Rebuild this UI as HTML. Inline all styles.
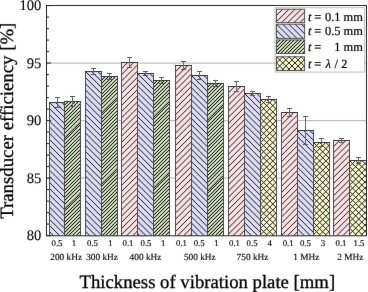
<!DOCTYPE html>
<html><head><meta charset="utf-8"><style>
html,body{margin:0;padding:0;background:#fff;}
svg{display:block;}
#wrap{width:368px;height:292px;will-change:transform;}
text{text-rendering:geometricPrecision;}
text{font-family:"Liberation Serif",serif;fill:#000;stroke:#000;stroke-width:0.3px;}
text.sm{stroke-width:0.14px;}
text.lg{stroke-width:0.2px;}
text.tk{stroke-width:0.1px;}
</style></head><body><div id="wrap">
<svg width="368" height="292" viewBox="0 0 368 292">
<defs>
<filter id="bl" color-interpolation-filters="sRGB" x="0" y="0" width="368" height="292" filterUnits="userSpaceOnUse"><feConvolveMatrix order="3" kernelMatrix="0 1 0 1 16 1 0 1 0" edgeMode="duplicate" preserveAlpha="true"/></filter>
</defs>
<g filter="url(#bl)"><rect width="368" height="292" fill="#fff"/>

<line x1="46.5" y1="63.10" x2="366.5" y2="63.10" stroke="#b2b2b2" stroke-width="1"/>
<line x1="46.5" y1="120.60" x2="366.5" y2="120.60" stroke="#b2b2b2" stroke-width="1"/>
<line x1="46.5" y1="178.10" x2="366.5" y2="178.10" stroke="#b2b2b2" stroke-width="1"/>
<clipPath id="c1"><rect x="49.5" y="102.5" width="15.000" height="133.000"/></clipPath><rect x="49.5" y="102.5" width="15.000" height="133.000" fill="#dedcf7"/><path clip-path="url(#c1)" d="M47.50 241.904L66.50 260.904M47.50 235.756L66.50 254.756M47.50 229.608L66.50 248.608M47.50 223.460L66.50 242.460M47.50 217.312L66.50 236.312M47.50 211.164L66.50 230.164M47.50 205.016L66.50 224.016M47.50 198.868L66.50 217.868M47.50 192.720L66.50 211.720M47.50 186.572L66.50 205.572M47.50 180.424L66.50 199.424M47.50 174.276L66.50 193.276M47.50 168.128L66.50 187.128M47.50 161.980L66.50 180.980M47.50 155.832L66.50 174.832M47.50 149.684L66.50 168.684M47.50 143.536L66.50 162.536M47.50 137.388L66.50 156.388M47.50 131.240L66.50 150.240M47.50 125.092L66.50 144.092M47.50 118.944L66.50 137.944M47.50 112.796L66.50 131.796M47.50 106.648L66.50 125.648M47.50 100.500L66.50 119.500M47.50 94.352L66.50 113.352M47.50 88.204L66.50 107.204M47.50 82.056L66.50 101.056M47.50 75.908L66.50 94.908" stroke="#1a1a1a" stroke-width="1.0" fill="none"/>
<path d="M49.5 235.5V102.5H64.5V235.5" fill="none" stroke="#4a4a4a" stroke-width="1"/>
<line x1="49.0" y1="102.5" x2="65.0" y2="102.5" stroke="#333" stroke-width="1"/>
<clipPath id="c2"><rect x="64.5" y="101.5" width="16.000" height="134.000"/></clipPath><rect x="64.5" y="101.5" width="16.000" height="134.000" fill="#edfcda"/><path clip-path="url(#c2)" d="M62.50 99.950L82.50 79.950M62.50 103.500L82.50 83.500M62.50 107.050L82.50 87.050M62.50 110.600L82.50 90.600M62.50 114.150L82.50 94.150M62.50 117.700L82.50 97.700M62.50 121.250L82.50 101.250M62.50 124.800L82.50 104.800M62.50 128.350L82.50 108.350M62.50 131.900L82.50 111.900M62.50 135.450L82.50 115.450M62.50 139.000L82.50 119.000M62.50 142.550L82.50 122.550M62.50 146.100L82.50 126.100M62.50 149.650L82.50 129.650M62.50 153.200L82.50 133.200M62.50 156.750L82.50 136.750M62.50 160.300L82.50 140.300M62.50 163.850L82.50 143.850M62.50 167.400L82.50 147.400M62.50 170.950L82.50 150.950M62.50 174.500L82.50 154.500M62.50 178.050L82.50 158.050M62.50 181.600L82.50 161.600M62.50 185.150L82.50 165.150M62.50 188.700L82.50 168.700M62.50 192.250L82.50 172.250M62.50 195.800L82.50 175.800M62.50 199.350L82.50 179.350M62.50 202.900L82.50 182.900M62.50 206.450L82.50 186.450M62.50 210.000L82.50 190.000M62.50 213.550L82.50 193.550M62.50 217.100L82.50 197.100M62.50 220.650L82.50 200.650M62.50 224.200L82.50 204.200M62.50 227.750L82.50 207.750M62.50 231.300L82.50 211.300M62.50 234.850L82.50 214.850M62.50 238.400L82.50 218.400M62.50 241.950L82.50 221.950M62.50 245.500L82.50 225.500M62.50 249.050L82.50 229.050M62.50 252.600L82.50 232.600M62.50 256.150L82.50 236.150M62.50 259.700L82.50 239.700" stroke="#000" stroke-opacity="0.35" stroke-width="1.5" fill="none"/><path clip-path="url(#c2)" d="M62.50 99.950L82.50 79.950M62.50 103.500L82.50 83.500M62.50 107.050L82.50 87.050M62.50 110.600L82.50 90.600M62.50 114.150L82.50 94.150M62.50 117.700L82.50 97.700M62.50 121.250L82.50 101.250M62.50 124.800L82.50 104.800M62.50 128.350L82.50 108.350M62.50 131.900L82.50 111.900M62.50 135.450L82.50 115.450M62.50 139.000L82.50 119.000M62.50 142.550L82.50 122.550M62.50 146.100L82.50 126.100M62.50 149.650L82.50 129.650M62.50 153.200L82.50 133.200M62.50 156.750L82.50 136.750M62.50 160.300L82.50 140.300M62.50 163.850L82.50 143.850M62.50 167.400L82.50 147.400M62.50 170.950L82.50 150.950M62.50 174.500L82.50 154.500M62.50 178.050L82.50 158.050M62.50 181.600L82.50 161.600M62.50 185.150L82.50 165.150M62.50 188.700L82.50 168.700M62.50 192.250L82.50 172.250M62.50 195.800L82.50 175.800M62.50 199.350L82.50 179.350M62.50 202.900L82.50 182.900M62.50 206.450L82.50 186.450M62.50 210.000L82.50 190.000M62.50 213.550L82.50 193.550M62.50 217.100L82.50 197.100M62.50 220.650L82.50 200.650M62.50 224.200L82.50 204.200M62.50 227.750L82.50 207.750M62.50 231.300L82.50 211.300M62.50 234.850L82.50 214.850M62.50 238.400L82.50 218.400M62.50 241.950L82.50 221.950M62.50 245.500L82.50 225.500M62.50 249.050L82.50 229.050M62.50 252.600L82.50 232.600M62.50 256.150L82.50 236.150M62.50 259.700L82.50 239.700" stroke="#000" stroke-width="0.85" fill="none" shape-rendering="crispEdges"/>
<path d="M64.5 235.5V101.5H80.5V235.5" fill="none" stroke="#4a4a4a" stroke-width="1"/>
<line x1="64.0" y1="101.5" x2="81.0" y2="101.5" stroke="#333" stroke-width="1"/>
<clipPath id="c3"><rect x="85.5" y="71.5" width="16.000" height="164.000"/></clipPath><rect x="85.5" y="71.5" width="16.000" height="164.000" fill="#dedcf7"/><path clip-path="url(#c3)" d="M83.50 241.644L103.50 261.644M83.50 235.496L103.50 255.496M83.50 229.348L103.50 249.348M83.50 223.200L103.50 243.200M83.50 217.052L103.50 237.052M83.50 210.904L103.50 230.904M83.50 204.756L103.50 224.756M83.50 198.608L103.50 218.608M83.50 192.460L103.50 212.460M83.50 186.312L103.50 206.312M83.50 180.164L103.50 200.164M83.50 174.016L103.50 194.016M83.50 167.868L103.50 187.868M83.50 161.720L103.50 181.720M83.50 155.572L103.50 175.572M83.50 149.424L103.50 169.424M83.50 143.276L103.50 163.276M83.50 137.128L103.50 157.128M83.50 130.980L103.50 150.980M83.50 124.832L103.50 144.832M83.50 118.684L103.50 138.684M83.50 112.536L103.50 132.536M83.50 106.388L103.50 126.388M83.50 100.240L103.50 120.240M83.50 94.092L103.50 114.092M83.50 87.944L103.50 107.944M83.50 81.796L103.50 101.796M83.50 75.648L103.50 95.648M83.50 69.500L103.50 89.500M83.50 63.352L103.50 83.352M83.50 57.204L103.50 77.204M83.50 51.056L103.50 71.056M83.50 44.908L103.50 64.908" stroke="#1a1a1a" stroke-width="1.0" fill="none"/>
<path d="M85.5 235.5V71.5H101.5V235.5" fill="none" stroke="#4a4a4a" stroke-width="1"/>
<line x1="85.0" y1="71.5" x2="102.0" y2="71.5" stroke="#333" stroke-width="1"/>
<clipPath id="c4"><rect x="101.5" y="76.5" width="16.000" height="159.000"/></clipPath><rect x="101.5" y="76.5" width="16.000" height="159.000" fill="#edfcda"/><path clip-path="url(#c4)" d="M99.50 74.950L119.50 54.950M99.50 78.500L119.50 58.500M99.50 82.050L119.50 62.050M99.50 85.600L119.50 65.600M99.50 89.150L119.50 69.150M99.50 92.700L119.50 72.700M99.50 96.250L119.50 76.250M99.50 99.800L119.50 79.800M99.50 103.350L119.50 83.350M99.50 106.900L119.50 86.900M99.50 110.450L119.50 90.450M99.50 114.000L119.50 94.000M99.50 117.550L119.50 97.550M99.50 121.100L119.50 101.100M99.50 124.650L119.50 104.650M99.50 128.200L119.50 108.200M99.50 131.750L119.50 111.750M99.50 135.300L119.50 115.300M99.50 138.850L119.50 118.850M99.50 142.400L119.50 122.400M99.50 145.950L119.50 125.950M99.50 149.500L119.50 129.500M99.50 153.050L119.50 133.050M99.50 156.600L119.50 136.600M99.50 160.150L119.50 140.150M99.50 163.700L119.50 143.700M99.50 167.250L119.50 147.250M99.50 170.800L119.50 150.800M99.50 174.350L119.50 154.350M99.50 177.900L119.50 157.900M99.50 181.450L119.50 161.450M99.50 185.000L119.50 165.000M99.50 188.550L119.50 168.550M99.50 192.100L119.50 172.100M99.50 195.650L119.50 175.650M99.50 199.200L119.50 179.200M99.50 202.750L119.50 182.750M99.50 206.300L119.50 186.300M99.50 209.850L119.50 189.850M99.50 213.400L119.50 193.400M99.50 216.950L119.50 196.950M99.50 220.500L119.50 200.500M99.50 224.050L119.50 204.050M99.50 227.600L119.50 207.600M99.50 231.150L119.50 211.150M99.50 234.700L119.50 214.700M99.50 238.250L119.50 218.250M99.50 241.800L119.50 221.800M99.50 245.350L119.50 225.350M99.50 248.900L119.50 228.900M99.50 252.450L119.50 232.450M99.50 256.000L119.50 236.000M99.50 259.550L119.50 239.550" stroke="#000" stroke-opacity="0.35" stroke-width="1.5" fill="none"/><path clip-path="url(#c4)" d="M99.50 74.950L119.50 54.950M99.50 78.500L119.50 58.500M99.50 82.050L119.50 62.050M99.50 85.600L119.50 65.600M99.50 89.150L119.50 69.150M99.50 92.700L119.50 72.700M99.50 96.250L119.50 76.250M99.50 99.800L119.50 79.800M99.50 103.350L119.50 83.350M99.50 106.900L119.50 86.900M99.50 110.450L119.50 90.450M99.50 114.000L119.50 94.000M99.50 117.550L119.50 97.550M99.50 121.100L119.50 101.100M99.50 124.650L119.50 104.650M99.50 128.200L119.50 108.200M99.50 131.750L119.50 111.750M99.50 135.300L119.50 115.300M99.50 138.850L119.50 118.850M99.50 142.400L119.50 122.400M99.50 145.950L119.50 125.950M99.50 149.500L119.50 129.500M99.50 153.050L119.50 133.050M99.50 156.600L119.50 136.600M99.50 160.150L119.50 140.150M99.50 163.700L119.50 143.700M99.50 167.250L119.50 147.250M99.50 170.800L119.50 150.800M99.50 174.350L119.50 154.350M99.50 177.900L119.50 157.900M99.50 181.450L119.50 161.450M99.50 185.000L119.50 165.000M99.50 188.550L119.50 168.550M99.50 192.100L119.50 172.100M99.50 195.650L119.50 175.650M99.50 199.200L119.50 179.200M99.50 202.750L119.50 182.750M99.50 206.300L119.50 186.300M99.50 209.850L119.50 189.850M99.50 213.400L119.50 193.400M99.50 216.950L119.50 196.950M99.50 220.500L119.50 200.500M99.50 224.050L119.50 204.050M99.50 227.600L119.50 207.600M99.50 231.150L119.50 211.150M99.50 234.700L119.50 214.700M99.50 238.250L119.50 218.250M99.50 241.800L119.50 221.800M99.50 245.350L119.50 225.350M99.50 248.900L119.50 228.900M99.50 252.450L119.50 232.450M99.50 256.000L119.50 236.000M99.50 259.550L119.50 239.550" stroke="#000" stroke-width="0.85" fill="none" shape-rendering="crispEdges"/>
<path d="M101.5 235.5V76.5H117.5V235.5" fill="none" stroke="#4a4a4a" stroke-width="1"/>
<line x1="101.0" y1="76.5" x2="118.0" y2="76.5" stroke="#333" stroke-width="1"/>
<clipPath id="c5"><rect x="121.5" y="62.5" width="16.000" height="173.000"/></clipPath><rect x="121.5" y="62.5" width="16.000" height="173.000" fill="#fbe1e4"/><path clip-path="url(#c5)" d="M119.50 58.352L139.50 38.352M119.50 64.500L139.50 44.500M119.50 70.648L139.50 50.648M119.50 76.796L139.50 56.796M119.50 82.944L139.50 62.944M119.50 89.092L139.50 69.092M119.50 95.240L139.50 75.240M119.50 101.388L139.50 81.388M119.50 107.536L139.50 87.536M119.50 113.684L139.50 93.684M119.50 119.832L139.50 99.832M119.50 125.980L139.50 105.980M119.50 132.128L139.50 112.128M119.50 138.276L139.50 118.276M119.50 144.424L139.50 124.424M119.50 150.572L139.50 130.572M119.50 156.720L139.50 136.720M119.50 162.868L139.50 142.868M119.50 169.016L139.50 149.016M119.50 175.164L139.50 155.164M119.50 181.312L139.50 161.312M119.50 187.460L139.50 167.460M119.50 193.608L139.50 173.608M119.50 199.756L139.50 179.756M119.50 205.904L139.50 185.904M119.50 212.052L139.50 192.052M119.50 218.200L139.50 198.200M119.50 224.348L139.50 204.348M119.50 230.496L139.50 210.496M119.50 236.644L139.50 216.644M119.50 242.792L139.50 222.792M119.50 248.940L139.50 228.940M119.50 255.088L139.50 235.088M119.50 261.236L139.50 241.236" stroke="#1a1a1a" stroke-width="1.0" fill="none"/>
<path d="M121.5 235.5V62.5H137.5V235.5" fill="none" stroke="#4a4a4a" stroke-width="1"/>
<line x1="121.0" y1="62.5" x2="138.0" y2="62.5" stroke="#333" stroke-width="1"/>
<clipPath id="c6"><rect x="137.5" y="73.5" width="16.000" height="162.000"/></clipPath><rect x="137.5" y="73.5" width="16.000" height="162.000" fill="#dedcf7"/><path clip-path="url(#c6)" d="M135.50 243.644L155.50 263.644M135.50 237.496L155.50 257.496M135.50 231.348L155.50 251.348M135.50 225.200L155.50 245.200M135.50 219.052L155.50 239.052M135.50 212.904L155.50 232.904M135.50 206.756L155.50 226.756M135.50 200.608L155.50 220.608M135.50 194.460L155.50 214.460M135.50 188.312L155.50 208.312M135.50 182.164L155.50 202.164M135.50 176.016L155.50 196.016M135.50 169.868L155.50 189.868M135.50 163.720L155.50 183.720M135.50 157.572L155.50 177.572M135.50 151.424L155.50 171.424M135.50 145.276L155.50 165.276M135.50 139.128L155.50 159.128M135.50 132.980L155.50 152.980M135.50 126.832L155.50 146.832M135.50 120.684L155.50 140.684M135.50 114.536L155.50 134.536M135.50 108.388L155.50 128.388M135.50 102.240L155.50 122.240M135.50 96.092L155.50 116.092M135.50 89.944L155.50 109.944M135.50 83.796L155.50 103.796M135.50 77.648L155.50 97.648M135.50 71.500L155.50 91.500M135.50 65.352L155.50 85.352M135.50 59.204L155.50 79.204M135.50 53.056L155.50 73.056M135.50 46.908L155.50 66.908" stroke="#1a1a1a" stroke-width="1.0" fill="none"/>
<path d="M137.5 235.5V73.5H153.5V235.5" fill="none" stroke="#4a4a4a" stroke-width="1"/>
<line x1="137.0" y1="73.5" x2="154.0" y2="73.5" stroke="#333" stroke-width="1"/>
<clipPath id="c7"><rect x="153.5" y="80.5" width="16.000" height="155.000"/></clipPath><rect x="153.5" y="80.5" width="16.000" height="155.000" fill="#edfcda"/><path clip-path="url(#c7)" d="M151.50 78.950L171.50 58.950M151.50 82.500L171.50 62.500M151.50 86.050L171.50 66.050M151.50 89.600L171.50 69.600M151.50 93.150L171.50 73.150M151.50 96.700L171.50 76.700M151.50 100.250L171.50 80.250M151.50 103.800L171.50 83.800M151.50 107.350L171.50 87.350M151.50 110.900L171.50 90.900M151.50 114.450L171.50 94.450M151.50 118.000L171.50 98.000M151.50 121.550L171.50 101.550M151.50 125.100L171.50 105.100M151.50 128.650L171.50 108.650M151.50 132.200L171.50 112.200M151.50 135.750L171.50 115.750M151.50 139.300L171.50 119.300M151.50 142.850L171.50 122.850M151.50 146.400L171.50 126.400M151.50 149.950L171.50 129.950M151.50 153.500L171.50 133.500M151.50 157.050L171.50 137.050M151.50 160.600L171.50 140.600M151.50 164.150L171.50 144.150M151.50 167.700L171.50 147.700M151.50 171.250L171.50 151.250M151.50 174.800L171.50 154.800M151.50 178.350L171.50 158.350M151.50 181.900L171.50 161.900M151.50 185.450L171.50 165.450M151.50 189.000L171.50 169.000M151.50 192.550L171.50 172.550M151.50 196.100L171.50 176.100M151.50 199.650L171.50 179.650M151.50 203.200L171.50 183.200M151.50 206.750L171.50 186.750M151.50 210.300L171.50 190.300M151.50 213.850L171.50 193.850M151.50 217.400L171.50 197.400M151.50 220.950L171.50 200.950M151.50 224.500L171.50 204.500M151.50 228.050L171.50 208.050M151.50 231.600L171.50 211.600M151.50 235.150L171.50 215.150M151.50 238.700L171.50 218.700M151.50 242.250L171.50 222.250M151.50 245.800L171.50 225.800M151.50 249.350L171.50 229.350M151.50 252.900L171.50 232.900M151.50 256.450L171.50 236.450M151.50 260.000L171.50 240.000" stroke="#000" stroke-opacity="0.35" stroke-width="1.5" fill="none"/><path clip-path="url(#c7)" d="M151.50 78.950L171.50 58.950M151.50 82.500L171.50 62.500M151.50 86.050L171.50 66.050M151.50 89.600L171.50 69.600M151.50 93.150L171.50 73.150M151.50 96.700L171.50 76.700M151.50 100.250L171.50 80.250M151.50 103.800L171.50 83.800M151.50 107.350L171.50 87.350M151.50 110.900L171.50 90.900M151.50 114.450L171.50 94.450M151.50 118.000L171.50 98.000M151.50 121.550L171.50 101.550M151.50 125.100L171.50 105.100M151.50 128.650L171.50 108.650M151.50 132.200L171.50 112.200M151.50 135.750L171.50 115.750M151.50 139.300L171.50 119.300M151.50 142.850L171.50 122.850M151.50 146.400L171.50 126.400M151.50 149.950L171.50 129.950M151.50 153.500L171.50 133.500M151.50 157.050L171.50 137.050M151.50 160.600L171.50 140.600M151.50 164.150L171.50 144.150M151.50 167.700L171.50 147.700M151.50 171.250L171.50 151.250M151.50 174.800L171.50 154.800M151.50 178.350L171.50 158.350M151.50 181.900L171.50 161.900M151.50 185.450L171.50 165.450M151.50 189.000L171.50 169.000M151.50 192.550L171.50 172.550M151.50 196.100L171.50 176.100M151.50 199.650L171.50 179.650M151.50 203.200L171.50 183.200M151.50 206.750L171.50 186.750M151.50 210.300L171.50 190.300M151.50 213.850L171.50 193.850M151.50 217.400L171.50 197.400M151.50 220.950L171.50 200.950M151.50 224.500L171.50 204.500M151.50 228.050L171.50 208.050M151.50 231.600L171.50 211.600M151.50 235.150L171.50 215.150M151.50 238.700L171.50 218.700M151.50 242.250L171.50 222.250M151.50 245.800L171.50 225.800M151.50 249.350L171.50 229.350M151.50 252.900L171.50 232.900M151.50 256.450L171.50 236.450M151.50 260.000L171.50 240.000" stroke="#000" stroke-width="0.85" fill="none" shape-rendering="crispEdges"/>
<path d="M153.5 235.5V80.5H169.5V235.5" fill="none" stroke="#4a4a4a" stroke-width="1"/>
<line x1="153.0" y1="80.5" x2="170.0" y2="80.5" stroke="#333" stroke-width="1"/>
<clipPath id="c8"><rect x="175.5" y="65.5" width="16.000" height="170.000"/></clipPath><rect x="175.5" y="65.5" width="16.000" height="170.000" fill="#fbe1e4"/><path clip-path="url(#c8)" d="M173.50 61.352L193.50 41.352M173.50 67.500L193.50 47.500M173.50 73.648L193.50 53.648M173.50 79.796L193.50 59.796M173.50 85.944L193.50 65.944M173.50 92.092L193.50 72.092M173.50 98.240L193.50 78.240M173.50 104.388L193.50 84.388M173.50 110.536L193.50 90.536M173.50 116.684L193.50 96.684M173.50 122.832L193.50 102.832M173.50 128.980L193.50 108.980M173.50 135.128L193.50 115.128M173.50 141.276L193.50 121.276M173.50 147.424L193.50 127.424M173.50 153.572L193.50 133.572M173.50 159.720L193.50 139.720M173.50 165.868L193.50 145.868M173.50 172.016L193.50 152.016M173.50 178.164L193.50 158.164M173.50 184.312L193.50 164.312M173.50 190.460L193.50 170.460M173.50 196.608L193.50 176.608M173.50 202.756L193.50 182.756M173.50 208.904L193.50 188.904M173.50 215.052L193.50 195.052M173.50 221.200L193.50 201.200M173.50 227.348L193.50 207.348M173.50 233.496L193.50 213.496M173.50 239.644L193.50 219.644M173.50 245.792L193.50 225.792M173.50 251.940L193.50 231.940M173.50 258.088L193.50 238.088M173.50 264.236L193.50 244.236" stroke="#1a1a1a" stroke-width="1.0" fill="none"/>
<path d="M175.5 235.5V65.5H191.5V235.5" fill="none" stroke="#4a4a4a" stroke-width="1"/>
<line x1="175.0" y1="65.5" x2="192.0" y2="65.5" stroke="#333" stroke-width="1"/>
<clipPath id="c9"><rect x="191.5" y="75.5" width="16.000" height="160.000"/></clipPath><rect x="191.5" y="75.5" width="16.000" height="160.000" fill="#dedcf7"/><path clip-path="url(#c9)" d="M189.50 245.644L209.50 265.644M189.50 239.496L209.50 259.496M189.50 233.348L209.50 253.348M189.50 227.200L209.50 247.200M189.50 221.052L209.50 241.052M189.50 214.904L209.50 234.904M189.50 208.756L209.50 228.756M189.50 202.608L209.50 222.608M189.50 196.460L209.50 216.460M189.50 190.312L209.50 210.312M189.50 184.164L209.50 204.164M189.50 178.016L209.50 198.016M189.50 171.868L209.50 191.868M189.50 165.720L209.50 185.720M189.50 159.572L209.50 179.572M189.50 153.424L209.50 173.424M189.50 147.276L209.50 167.276M189.50 141.128L209.50 161.128M189.50 134.980L209.50 154.980M189.50 128.832L209.50 148.832M189.50 122.684L209.50 142.684M189.50 116.536L209.50 136.536M189.50 110.388L209.50 130.388M189.50 104.240L209.50 124.240M189.50 98.092L209.50 118.092M189.50 91.944L209.50 111.944M189.50 85.796L209.50 105.796M189.50 79.648L209.50 99.648M189.50 73.500L209.50 93.500M189.50 67.352L209.50 87.352M189.50 61.204L209.50 81.204M189.50 55.056L209.50 75.056M189.50 48.908L209.50 68.908" stroke="#1a1a1a" stroke-width="1.0" fill="none"/>
<path d="M191.5 235.5V75.5H207.5V235.5" fill="none" stroke="#4a4a4a" stroke-width="1"/>
<line x1="191.0" y1="75.5" x2="208.0" y2="75.5" stroke="#333" stroke-width="1"/>
<clipPath id="c10"><rect x="207.5" y="83.5" width="16.000" height="152.000"/></clipPath><rect x="207.5" y="83.5" width="16.000" height="152.000" fill="#edfcda"/><path clip-path="url(#c10)" d="M205.50 81.950L225.50 61.950M205.50 85.500L225.50 65.500M205.50 89.050L225.50 69.050M205.50 92.600L225.50 72.600M205.50 96.150L225.50 76.150M205.50 99.700L225.50 79.700M205.50 103.250L225.50 83.250M205.50 106.800L225.50 86.800M205.50 110.350L225.50 90.350M205.50 113.900L225.50 93.900M205.50 117.450L225.50 97.450M205.50 121.000L225.50 101.000M205.50 124.550L225.50 104.550M205.50 128.100L225.50 108.100M205.50 131.650L225.50 111.650M205.50 135.200L225.50 115.200M205.50 138.750L225.50 118.750M205.50 142.300L225.50 122.300M205.50 145.850L225.50 125.850M205.50 149.400L225.50 129.400M205.50 152.950L225.50 132.950M205.50 156.500L225.50 136.500M205.50 160.050L225.50 140.050M205.50 163.600L225.50 143.600M205.50 167.150L225.50 147.150M205.50 170.700L225.50 150.700M205.50 174.250L225.50 154.250M205.50 177.800L225.50 157.800M205.50 181.350L225.50 161.350M205.50 184.900L225.50 164.900M205.50 188.450L225.50 168.450M205.50 192.000L225.50 172.000M205.50 195.550L225.50 175.550M205.50 199.100L225.50 179.100M205.50 202.650L225.50 182.650M205.50 206.200L225.50 186.200M205.50 209.750L225.50 189.750M205.50 213.300L225.50 193.300M205.50 216.850L225.50 196.850M205.50 220.400L225.50 200.400M205.50 223.950L225.50 203.950M205.50 227.500L225.50 207.500M205.50 231.050L225.50 211.050M205.50 234.600L225.50 214.600M205.50 238.150L225.50 218.150M205.50 241.700L225.50 221.700M205.50 245.250L225.50 225.250M205.50 248.800L225.50 228.800M205.50 252.350L225.50 232.350M205.50 255.900L225.50 235.900M205.50 259.450L225.50 239.450" stroke="#000" stroke-opacity="0.35" stroke-width="1.5" fill="none"/><path clip-path="url(#c10)" d="M205.50 81.950L225.50 61.950M205.50 85.500L225.50 65.500M205.50 89.050L225.50 69.050M205.50 92.600L225.50 72.600M205.50 96.150L225.50 76.150M205.50 99.700L225.50 79.700M205.50 103.250L225.50 83.250M205.50 106.800L225.50 86.800M205.50 110.350L225.50 90.350M205.50 113.900L225.50 93.900M205.50 117.450L225.50 97.450M205.50 121.000L225.50 101.000M205.50 124.550L225.50 104.550M205.50 128.100L225.50 108.100M205.50 131.650L225.50 111.650M205.50 135.200L225.50 115.200M205.50 138.750L225.50 118.750M205.50 142.300L225.50 122.300M205.50 145.850L225.50 125.850M205.50 149.400L225.50 129.400M205.50 152.950L225.50 132.950M205.50 156.500L225.50 136.500M205.50 160.050L225.50 140.050M205.50 163.600L225.50 143.600M205.50 167.150L225.50 147.150M205.50 170.700L225.50 150.700M205.50 174.250L225.50 154.250M205.50 177.800L225.50 157.800M205.50 181.350L225.50 161.350M205.50 184.900L225.50 164.900M205.50 188.450L225.50 168.450M205.50 192.000L225.50 172.000M205.50 195.550L225.50 175.550M205.50 199.100L225.50 179.100M205.50 202.650L225.50 182.650M205.50 206.200L225.50 186.200M205.50 209.750L225.50 189.750M205.50 213.300L225.50 193.300M205.50 216.850L225.50 196.850M205.50 220.400L225.50 200.400M205.50 223.950L225.50 203.950M205.50 227.500L225.50 207.500M205.50 231.050L225.50 211.050M205.50 234.600L225.50 214.600M205.50 238.150L225.50 218.150M205.50 241.700L225.50 221.700M205.50 245.250L225.50 225.250M205.50 248.800L225.50 228.800M205.50 252.350L225.50 232.350M205.50 255.900L225.50 235.900M205.50 259.450L225.50 239.450" stroke="#000" stroke-width="0.85" fill="none" shape-rendering="crispEdges"/>
<path d="M207.5 235.5V83.5H223.5V235.5" fill="none" stroke="#4a4a4a" stroke-width="1"/>
<line x1="207.0" y1="83.5" x2="224.0" y2="83.5" stroke="#333" stroke-width="1"/>
<clipPath id="c11"><rect x="228.5" y="86.5" width="16.000" height="149.000"/></clipPath><rect x="228.5" y="86.5" width="16.000" height="149.000" fill="#fbe1e4"/><path clip-path="url(#c11)" d="M226.50 82.352L246.50 62.352M226.50 88.500L246.50 68.500M226.50 94.648L246.50 74.648M226.50 100.796L246.50 80.796M226.50 106.944L246.50 86.944M226.50 113.092L246.50 93.092M226.50 119.240L246.50 99.240M226.50 125.388L246.50 105.388M226.50 131.536L246.50 111.536M226.50 137.684L246.50 117.684M226.50 143.832L246.50 123.832M226.50 149.980L246.50 129.980M226.50 156.128L246.50 136.128M226.50 162.276L246.50 142.276M226.50 168.424L246.50 148.424M226.50 174.572L246.50 154.572M226.50 180.720L246.50 160.720M226.50 186.868L246.50 166.868M226.50 193.016L246.50 173.016M226.50 199.164L246.50 179.164M226.50 205.312L246.50 185.312M226.50 211.460L246.50 191.460M226.50 217.608L246.50 197.608M226.50 223.756L246.50 203.756M226.50 229.904L246.50 209.904M226.50 236.052L246.50 216.052M226.50 242.200L246.50 222.200M226.50 248.348L246.50 228.348M226.50 254.496L246.50 234.496M226.50 260.644L246.50 240.644" stroke="#1a1a1a" stroke-width="1.0" fill="none"/>
<path d="M228.5 235.5V86.5H244.5V235.5" fill="none" stroke="#4a4a4a" stroke-width="1"/>
<line x1="228.0" y1="86.5" x2="245.0" y2="86.5" stroke="#333" stroke-width="1"/>
<clipPath id="c12"><rect x="244.5" y="93.5" width="16.000" height="142.000"/></clipPath><rect x="244.5" y="93.5" width="16.000" height="142.000" fill="#dedcf7"/><path clip-path="url(#c12)" d="M242.50 245.200L262.50 265.200M242.50 239.052L262.50 259.052M242.50 232.904L262.50 252.904M242.50 226.756L262.50 246.756M242.50 220.608L262.50 240.608M242.50 214.460L262.50 234.460M242.50 208.312L262.50 228.312M242.50 202.164L262.50 222.164M242.50 196.016L262.50 216.016M242.50 189.868L262.50 209.868M242.50 183.720L262.50 203.720M242.50 177.572L262.50 197.572M242.50 171.424L262.50 191.424M242.50 165.276L262.50 185.276M242.50 159.128L262.50 179.128M242.50 152.980L262.50 172.980M242.50 146.832L262.50 166.832M242.50 140.684L262.50 160.684M242.50 134.536L262.50 154.536M242.50 128.388L262.50 148.388M242.50 122.240L262.50 142.240M242.50 116.092L262.50 136.092M242.50 109.944L262.50 129.944M242.50 103.796L262.50 123.796M242.50 97.648L262.50 117.648M242.50 91.500L262.50 111.500M242.50 85.352L262.50 105.352M242.50 79.204L262.50 99.204M242.50 73.056L262.50 93.056M242.50 66.908L262.50 86.908" stroke="#1a1a1a" stroke-width="1.0" fill="none"/>
<path d="M244.5 235.5V93.5H260.5V235.5" fill="none" stroke="#4a4a4a" stroke-width="1"/>
<line x1="244.0" y1="93.5" x2="261.0" y2="93.5" stroke="#333" stroke-width="1"/>
<clipPath id="c13"><rect x="260.5" y="99.5" width="16.000" height="136.000"/></clipPath><rect x="260.5" y="99.5" width="16.000" height="136.000" fill="#fdfbd2"/><path clip-path="url(#c13)" d="M258.50 95.352L278.50 75.352M258.50 101.500L278.50 81.500M258.50 107.648L278.50 87.648M258.50 113.796L278.50 93.796M258.50 119.944L278.50 99.944M258.50 126.092L278.50 106.092M258.50 132.240L278.50 112.240M258.50 138.388L278.50 118.388M258.50 144.536L278.50 124.536M258.50 150.684L278.50 130.684M258.50 156.832L278.50 136.832M258.50 162.980L278.50 142.980M258.50 169.128L278.50 149.128M258.50 175.276L278.50 155.276M258.50 181.424L278.50 161.424M258.50 187.572L278.50 167.572M258.50 193.720L278.50 173.720M258.50 199.868L278.50 179.868M258.50 206.016L278.50 186.016M258.50 212.164L278.50 192.164M258.50 218.312L278.50 198.312M258.50 224.460L278.50 204.460M258.50 230.608L278.50 210.608M258.50 236.756L278.50 216.756M258.50 242.904L278.50 222.904M258.50 249.052L278.50 229.052M258.50 255.200L278.50 235.200M258.50 261.348L278.50 241.348M258.50 245.052L278.50 265.052M258.50 238.904L278.50 258.904M258.50 232.756L278.50 252.756M258.50 226.608L278.50 246.608M258.50 220.460L278.50 240.460M258.50 214.312L278.50 234.312M258.50 208.164L278.50 228.164M258.50 202.016L278.50 222.016M258.50 195.868L278.50 215.868M258.50 189.720L278.50 209.720M258.50 183.572L278.50 203.572M258.50 177.424L278.50 197.424M258.50 171.276L278.50 191.276M258.50 165.128L278.50 185.128M258.50 158.980L278.50 178.980M258.50 152.832L278.50 172.832M258.50 146.684L278.50 166.684M258.50 140.536L278.50 160.536M258.50 134.388L278.50 154.388M258.50 128.240L278.50 148.240M258.50 122.092L278.50 142.092M258.50 115.944L278.50 135.944M258.50 109.796L278.50 129.796M258.50 103.648L278.50 123.648M258.50 97.500L278.50 117.500M258.50 91.352L278.50 111.352M258.50 85.204L278.50 105.204M258.50 79.056L278.50 99.056M258.50 72.908L278.50 92.908" stroke="#1a1a1a" stroke-width="1.0" fill="none"/>
<path d="M260.5 235.5V99.5H276.5V235.5" fill="none" stroke="#4a4a4a" stroke-width="1"/>
<line x1="260.0" y1="99.5" x2="277.0" y2="99.5" stroke="#333" stroke-width="1"/>
<clipPath id="c14"><rect x="281.5" y="112.5" width="16.000" height="123.000"/></clipPath><rect x="281.5" y="112.5" width="16.000" height="123.000" fill="#fbe1e4"/><path clip-path="url(#c14)" d="M279.50 108.352L299.50 88.352M279.50 114.500L299.50 94.500M279.50 120.648L299.50 100.648M279.50 126.796L299.50 106.796M279.50 132.944L299.50 112.944M279.50 139.092L299.50 119.092M279.50 145.240L299.50 125.240M279.50 151.388L299.50 131.388M279.50 157.536L299.50 137.536M279.50 163.684L299.50 143.684M279.50 169.832L299.50 149.832M279.50 175.980L299.50 155.980M279.50 182.128L299.50 162.128M279.50 188.276L299.50 168.276M279.50 194.424L299.50 174.424M279.50 200.572L299.50 180.572M279.50 206.720L299.50 186.720M279.50 212.868L299.50 192.868M279.50 219.016L299.50 199.016M279.50 225.164L299.50 205.164M279.50 231.312L299.50 211.312M279.50 237.460L299.50 217.460M279.50 243.608L299.50 223.608M279.50 249.756L299.50 229.756M279.50 255.904L299.50 235.904M279.50 262.052L299.50 242.052" stroke="#1a1a1a" stroke-width="1.0" fill="none"/>
<path d="M281.5 235.5V112.5H297.5V235.5" fill="none" stroke="#4a4a4a" stroke-width="1"/>
<line x1="281.0" y1="112.5" x2="298.0" y2="112.5" stroke="#333" stroke-width="1"/>
<clipPath id="c15"><rect x="297.5" y="130.5" width="16.000" height="105.000"/></clipPath><rect x="297.5" y="130.5" width="16.000" height="105.000" fill="#dedcf7"/><path clip-path="url(#c15)" d="M295.50 245.312L315.50 265.312M295.50 239.164L315.50 259.164M295.50 233.016L315.50 253.016M295.50 226.868L315.50 246.868M295.50 220.720L315.50 240.720M295.50 214.572L315.50 234.572M295.50 208.424L315.50 228.424M295.50 202.276L315.50 222.276M295.50 196.128L315.50 216.128M295.50 189.980L315.50 209.980M295.50 183.832L315.50 203.832M295.50 177.684L315.50 197.684M295.50 171.536L315.50 191.536M295.50 165.388L315.50 185.388M295.50 159.240L315.50 179.240M295.50 153.092L315.50 173.092M295.50 146.944L315.50 166.944M295.50 140.796L315.50 160.796M295.50 134.648L315.50 154.648M295.50 128.500L315.50 148.500M295.50 122.352L315.50 142.352M295.50 116.204L315.50 136.204M295.50 110.056L315.50 130.056M295.50 103.908L315.50 123.908" stroke="#1a1a1a" stroke-width="1.0" fill="none"/>
<path d="M297.5 235.5V130.5H313.5V235.5" fill="none" stroke="#4a4a4a" stroke-width="1"/>
<line x1="297.0" y1="130.5" x2="314.0" y2="130.5" stroke="#333" stroke-width="1"/>
<clipPath id="c16"><rect x="313.5" y="142.5" width="16.000" height="93.000"/></clipPath><rect x="313.5" y="142.5" width="16.000" height="93.000" fill="#fdfbd2"/><path clip-path="url(#c16)" d="M311.50 138.352L331.50 118.352M311.50 144.500L331.50 124.500M311.50 150.648L331.50 130.648M311.50 156.796L331.50 136.796M311.50 162.944L331.50 142.944M311.50 169.092L331.50 149.092M311.50 175.240L331.50 155.240M311.50 181.388L331.50 161.388M311.50 187.536L331.50 167.536M311.50 193.684L331.50 173.684M311.50 199.832L331.50 179.832M311.50 205.980L331.50 185.980M311.50 212.128L331.50 192.128M311.50 218.276L331.50 198.276M311.50 224.424L331.50 204.424M311.50 230.572L331.50 210.572M311.50 236.720L331.50 216.720M311.50 242.868L331.50 222.868M311.50 249.016L331.50 229.016M311.50 255.164L331.50 235.164M311.50 261.312L331.50 241.312M311.50 245.016L331.50 265.016M311.50 238.868L331.50 258.868M311.50 232.720L331.50 252.720M311.50 226.572L331.50 246.572M311.50 220.424L331.50 240.424M311.50 214.276L331.50 234.276M311.50 208.128L331.50 228.128M311.50 201.980L331.50 221.980M311.50 195.832L331.50 215.832M311.50 189.684L331.50 209.684M311.50 183.536L331.50 203.536M311.50 177.388L331.50 197.388M311.50 171.240L331.50 191.240M311.50 165.092L331.50 185.092M311.50 158.944L331.50 178.944M311.50 152.796L331.50 172.796M311.50 146.648L331.50 166.648M311.50 140.500L331.50 160.500M311.50 134.352L331.50 154.352M311.50 128.204L331.50 148.204M311.50 122.056L331.50 142.056M311.50 115.908L331.50 135.908" stroke="#1a1a1a" stroke-width="1.0" fill="none"/>
<path d="M313.5 235.5V142.5H329.5V235.5" fill="none" stroke="#4a4a4a" stroke-width="1"/>
<line x1="313.0" y1="142.5" x2="330.0" y2="142.5" stroke="#333" stroke-width="1"/>
<clipPath id="c17"><rect x="333.5" y="140.5" width="16.000" height="95.000"/></clipPath><rect x="333.5" y="140.5" width="16.000" height="95.000" fill="#fbe1e4"/><path clip-path="url(#c17)" d="M331.50 136.352L351.50 116.352M331.50 142.500L351.50 122.500M331.50 148.648L351.50 128.648M331.50 154.796L351.50 134.796M331.50 160.944L351.50 140.944M331.50 167.092L351.50 147.092M331.50 173.240L351.50 153.240M331.50 179.388L351.50 159.388M331.50 185.536L351.50 165.536M331.50 191.684L351.50 171.684M331.50 197.832L351.50 177.832M331.50 203.980L351.50 183.980M331.50 210.128L351.50 190.128M331.50 216.276L351.50 196.276M331.50 222.424L351.50 202.424M331.50 228.572L351.50 208.572M331.50 234.720L351.50 214.720M331.50 240.868L351.50 220.868M331.50 247.016L351.50 227.016M331.50 253.164L351.50 233.164M331.50 259.312L351.50 239.312M331.50 265.460L351.50 245.460" stroke="#1a1a1a" stroke-width="1.0" fill="none"/>
<path d="M333.5 235.5V140.5H349.5V235.5" fill="none" stroke="#4a4a4a" stroke-width="1"/>
<line x1="333.0" y1="140.5" x2="350.0" y2="140.5" stroke="#333" stroke-width="1"/>
<clipPath id="c18"><rect x="349.5" y="160.5" width="17.000" height="75.000"/></clipPath><rect x="349.5" y="160.5" width="17.000" height="75.000" fill="#fdfbd2"/><path clip-path="url(#c18)" d="M347.50 156.352L368.50 135.352M347.50 162.500L368.50 141.500M347.50 168.648L368.50 147.648M347.50 174.796L368.50 153.796M347.50 180.944L368.50 159.944M347.50 187.092L368.50 166.092M347.50 193.240L368.50 172.240M347.50 199.388L368.50 178.388M347.50 205.536L368.50 184.536M347.50 211.684L368.50 190.684M347.50 217.832L368.50 196.832M347.50 223.980L368.50 202.980M347.50 230.128L368.50 209.128M347.50 236.276L368.50 215.276M347.50 242.424L368.50 221.424M347.50 248.572L368.50 227.572M347.50 254.720L368.50 233.720M347.50 260.868L368.50 239.868M347.50 244.572L368.50 265.572M347.50 238.424L368.50 259.424M347.50 232.276L368.50 253.276M347.50 226.128L368.50 247.128M347.50 219.980L368.50 240.980M347.50 213.832L368.50 234.832M347.50 207.684L368.50 228.684M347.50 201.536L368.50 222.536M347.50 195.388L368.50 216.388M347.50 189.240L368.50 210.240M347.50 183.092L368.50 204.092M347.50 176.944L368.50 197.944M347.50 170.796L368.50 191.796M347.50 164.648L368.50 185.648M347.50 158.500L368.50 179.500M347.50 152.352L368.50 173.352M347.50 146.204L368.50 167.204M347.50 140.056L368.50 161.056M347.50 133.908L368.50 154.908" stroke="#1a1a1a" stroke-width="1.0" fill="none"/>
<path d="M349.5 235.5V160.5H366.5V235.5" fill="none" stroke="#4a4a4a" stroke-width="1"/>
<line x1="349.0" y1="160.5" x2="367.0" y2="160.5" stroke="#333" stroke-width="1"/>
<line x1="57.50" y1="97.50" x2="57.50" y2="107.50" stroke="#686868" stroke-width="1"/>
<line x1="55.00" y1="97.50" x2="60.00" y2="97.50" stroke="#555" stroke-width="1"/>
<line x1="55.00" y1="107.50" x2="60.00" y2="107.50" stroke="#555" stroke-width="1"/>
<line x1="72.50" y1="96.50" x2="72.50" y2="106.50" stroke="#686868" stroke-width="1"/>
<line x1="70.00" y1="96.50" x2="75.00" y2="96.50" stroke="#555" stroke-width="1"/>
<line x1="70.00" y1="106.50" x2="75.00" y2="106.50" stroke="#555" stroke-width="1"/>
<line x1="93.50" y1="68.50" x2="93.50" y2="74.50" stroke="#686868" stroke-width="1"/>
<line x1="91.00" y1="68.50" x2="96.00" y2="68.50" stroke="#555" stroke-width="1"/>
<line x1="91.00" y1="74.50" x2="96.00" y2="74.50" stroke="#555" stroke-width="1"/>
<line x1="109.50" y1="73.50" x2="109.50" y2="79.50" stroke="#686868" stroke-width="1"/>
<line x1="107.00" y1="73.50" x2="112.00" y2="73.50" stroke="#555" stroke-width="1"/>
<line x1="107.00" y1="79.50" x2="112.00" y2="79.50" stroke="#555" stroke-width="1"/>
<line x1="129.50" y1="57.50" x2="129.50" y2="67.50" stroke="#686868" stroke-width="1"/>
<line x1="127.00" y1="57.50" x2="132.00" y2="57.50" stroke="#555" stroke-width="1"/>
<line x1="127.00" y1="67.50" x2="132.00" y2="67.50" stroke="#555" stroke-width="1"/>
<line x1="145.50" y1="71.50" x2="145.50" y2="75.50" stroke="#686868" stroke-width="1"/>
<line x1="143.00" y1="71.50" x2="148.00" y2="71.50" stroke="#555" stroke-width="1"/>
<line x1="143.00" y1="75.50" x2="148.00" y2="75.50" stroke="#555" stroke-width="1"/>
<line x1="161.50" y1="77.50" x2="161.50" y2="83.50" stroke="#686868" stroke-width="1"/>
<line x1="159.00" y1="77.50" x2="164.00" y2="77.50" stroke="#555" stroke-width="1"/>
<line x1="159.00" y1="83.50" x2="164.00" y2="83.50" stroke="#555" stroke-width="1"/>
<line x1="183.50" y1="61.50" x2="183.50" y2="69.50" stroke="#686868" stroke-width="1"/>
<line x1="181.00" y1="61.50" x2="186.00" y2="61.50" stroke="#555" stroke-width="1"/>
<line x1="181.00" y1="69.50" x2="186.00" y2="69.50" stroke="#555" stroke-width="1"/>
<line x1="199.50" y1="71.50" x2="199.50" y2="79.50" stroke="#686868" stroke-width="1"/>
<line x1="197.00" y1="71.50" x2="202.00" y2="71.50" stroke="#555" stroke-width="1"/>
<line x1="197.00" y1="79.50" x2="202.00" y2="79.50" stroke="#555" stroke-width="1"/>
<line x1="215.50" y1="80.50" x2="215.50" y2="86.50" stroke="#686868" stroke-width="1"/>
<line x1="213.00" y1="80.50" x2="218.00" y2="80.50" stroke="#555" stroke-width="1"/>
<line x1="213.00" y1="86.50" x2="218.00" y2="86.50" stroke="#555" stroke-width="1"/>
<line x1="236.50" y1="81.50" x2="236.50" y2="91.50" stroke="#686868" stroke-width="1"/>
<line x1="234.00" y1="81.50" x2="239.00" y2="81.50" stroke="#555" stroke-width="1"/>
<line x1="234.00" y1="91.50" x2="239.00" y2="91.50" stroke="#555" stroke-width="1"/>
<line x1="252.50" y1="91.50" x2="252.50" y2="95.50" stroke="#686868" stroke-width="1"/>
<line x1="250.00" y1="91.50" x2="255.00" y2="91.50" stroke="#555" stroke-width="1"/>
<line x1="250.00" y1="95.50" x2="255.00" y2="95.50" stroke="#555" stroke-width="1"/>
<line x1="268.50" y1="96.50" x2="268.50" y2="102.50" stroke="#686868" stroke-width="1"/>
<line x1="266.00" y1="96.50" x2="271.00" y2="96.50" stroke="#555" stroke-width="1"/>
<line x1="266.00" y1="102.50" x2="271.00" y2="102.50" stroke="#555" stroke-width="1"/>
<line x1="289.50" y1="108.50" x2="289.50" y2="116.50" stroke="#686868" stroke-width="1"/>
<line x1="287.00" y1="108.50" x2="292.00" y2="108.50" stroke="#555" stroke-width="1"/>
<line x1="287.00" y1="116.50" x2="292.00" y2="116.50" stroke="#555" stroke-width="1"/>
<line x1="305.50" y1="116.50" x2="305.50" y2="144.50" stroke="#686868" stroke-width="1"/>
<line x1="303.00" y1="116.50" x2="308.00" y2="116.50" stroke="#555" stroke-width="1"/>
<line x1="303.00" y1="144.50" x2="308.00" y2="144.50" stroke="#555" stroke-width="1"/>
<line x1="321.50" y1="138.50" x2="321.50" y2="146.50" stroke="#686868" stroke-width="1"/>
<line x1="319.00" y1="138.50" x2="324.00" y2="138.50" stroke="#555" stroke-width="1"/>
<line x1="319.00" y1="146.50" x2="324.00" y2="146.50" stroke="#555" stroke-width="1"/>
<line x1="341.50" y1="138.50" x2="341.50" y2="142.50" stroke="#686868" stroke-width="1"/>
<line x1="339.00" y1="138.50" x2="344.00" y2="138.50" stroke="#555" stroke-width="1"/>
<line x1="339.00" y1="142.50" x2="344.00" y2="142.50" stroke="#555" stroke-width="1"/>
<line x1="358.50" y1="157.50" x2="358.50" y2="163.50" stroke="#686868" stroke-width="1"/>
<line x1="356.00" y1="157.50" x2="361.00" y2="157.50" stroke="#555" stroke-width="1"/>
<line x1="356.00" y1="163.50" x2="361.00" y2="163.50" stroke="#555" stroke-width="1"/>
<rect x="46.5" y="5.5" width="320" height="230.3" fill="none" stroke="#222" stroke-width="1"/>
<line x1="46.5" y1="235.60" x2="51" y2="235.60" stroke="#222" stroke-width="1"/>
<text class="tk" x="41.3" y="240.20" font-size="14.6" text-anchor="end">80</text>
<line x1="46.5" y1="224.10" x2="49" y2="224.10" stroke="#222" stroke-width="1"/>
<line x1="46.5" y1="212.60" x2="49" y2="212.60" stroke="#222" stroke-width="1"/>
<line x1="46.5" y1="201.10" x2="49" y2="201.10" stroke="#222" stroke-width="1"/>
<line x1="46.5" y1="189.60" x2="49" y2="189.60" stroke="#222" stroke-width="1"/>
<line x1="46.5" y1="178.10" x2="51" y2="178.10" stroke="#222" stroke-width="1"/>
<text class="tk" x="41.3" y="182.70" font-size="14.6" text-anchor="end">85</text>
<line x1="46.5" y1="166.60" x2="49" y2="166.60" stroke="#222" stroke-width="1"/>
<line x1="46.5" y1="155.10" x2="49" y2="155.10" stroke="#222" stroke-width="1"/>
<line x1="46.5" y1="143.60" x2="49" y2="143.60" stroke="#222" stroke-width="1"/>
<line x1="46.5" y1="132.10" x2="49" y2="132.10" stroke="#222" stroke-width="1"/>
<line x1="46.5" y1="120.60" x2="51" y2="120.60" stroke="#222" stroke-width="1"/>
<text class="tk" x="41.3" y="125.20" font-size="14.6" text-anchor="end">90</text>
<line x1="46.5" y1="109.10" x2="49" y2="109.10" stroke="#222" stroke-width="1"/>
<line x1="46.5" y1="97.60" x2="49" y2="97.60" stroke="#222" stroke-width="1"/>
<line x1="46.5" y1="86.10" x2="49" y2="86.10" stroke="#222" stroke-width="1"/>
<line x1="46.5" y1="74.60" x2="49" y2="74.60" stroke="#222" stroke-width="1"/>
<line x1="46.5" y1="63.10" x2="51" y2="63.10" stroke="#222" stroke-width="1"/>
<text class="tk" x="41.3" y="67.70" font-size="14.6" text-anchor="end">95</text>
<line x1="46.5" y1="51.60" x2="49" y2="51.60" stroke="#222" stroke-width="1"/>
<line x1="46.5" y1="40.10" x2="49" y2="40.10" stroke="#222" stroke-width="1"/>
<line x1="46.5" y1="28.60" x2="49" y2="28.60" stroke="#222" stroke-width="1"/>
<line x1="46.5" y1="17.10" x2="49" y2="17.10" stroke="#222" stroke-width="1"/>
<line x1="46.5" y1="5.60" x2="51" y2="5.60" stroke="#222" stroke-width="1"/>
<text class="tk" x="41.3" y="10.20" font-size="14.6" text-anchor="end">100</text>
<text class="sm" x="57.00" y="245.6" font-size="8.8" text-anchor="middle">0.5</text>
<text class="sm" x="74.00" y="245.6" font-size="8.8" text-anchor="middle">1</text>
<text class="sm" x="92.40" y="245.6" font-size="8.8" text-anchor="middle">0.5</text>
<text class="sm" x="110.50" y="245.6" font-size="8.8" text-anchor="middle">1</text>
<text class="sm" x="128.00" y="245.6" font-size="8.8" text-anchor="middle">0.1</text>
<text class="sm" x="146.00" y="245.6" font-size="8.8" text-anchor="middle">0.5</text>
<text class="sm" x="163.10" y="245.6" font-size="8.8" text-anchor="middle">1</text>
<text class="sm" x="181.50" y="245.6" font-size="8.8" text-anchor="middle">0.1</text>
<text class="sm" x="199.20" y="245.6" font-size="8.8" text-anchor="middle">0.5</text>
<text class="sm" x="216.40" y="245.6" font-size="8.8" text-anchor="middle">1</text>
<text class="sm" x="234.50" y="245.6" font-size="8.8" text-anchor="middle">0.1</text>
<text class="sm" x="252.10" y="245.6" font-size="8.8" text-anchor="middle">0.5</text>
<text class="sm" x="269.60" y="245.6" font-size="8.8" text-anchor="middle">4</text>
<text class="sm" x="288.20" y="245.6" font-size="8.8" text-anchor="middle">0.1</text>
<text class="sm" x="305.40" y="245.6" font-size="8.8" text-anchor="middle">0.5</text>
<text class="sm" x="323.00" y="245.6" font-size="8.8" text-anchor="middle">3</text>
<text class="sm" x="341.00" y="245.6" font-size="8.8" text-anchor="middle">0.1</text>
<text class="sm" x="359.00" y="245.6" font-size="8.8" text-anchor="middle">1.5</text>
<text class="sm" x="66.20" y="259.7" font-size="9.3" text-anchor="middle">200 kHz</text>
<text class="sm" x="102.10" y="259.7" font-size="9.3" text-anchor="middle">300 kHz</text>
<text class="sm" x="145.50" y="259.7" font-size="9.3" text-anchor="middle">400 kHz</text>
<text class="sm" x="199.80" y="259.7" font-size="9.3" text-anchor="middle">500 kHz</text>
<text class="sm" x="252.50" y="259.7" font-size="9.3" text-anchor="middle">750 kHz</text>
<text class="sm" x="306.30" y="259.7" font-size="9.3" text-anchor="middle">1 MHz</text>
<text class="sm" x="350.40" y="259.7" font-size="9.3" text-anchor="middle">2 MHz</text>
<text x="79.6" y="288.05" font-size="18.72">Thickness of vibration plate [mm]</text>
<text transform="translate(13.2,218.8) rotate(-90)" font-size="18.8">Transducer efficiency [%]</text>
<rect x="275.1" y="7.7" width="89.5" height="64.4" fill="#fff" stroke="#bdbdbd" stroke-width="1"/>
<clipPath id="c19"><rect x="276.6" y="9.2" width="28.100" height="13.500"/></clipPath><rect x="276.6" y="9.2" width="28.100" height="13.500" fill="#fbe1e4"/><path clip-path="url(#c19)" d="M274.60 5.052L306.70 -27.048M274.60 11.200L306.70 -20.900M274.60 17.348L306.70 -14.752M274.60 23.496L306.70 -8.604M274.60 29.644L306.70 -2.456M274.60 35.792L306.70 3.692M274.60 41.940L306.70 9.840M274.60 48.088L306.70 15.988M274.60 54.236L306.70 22.136M274.60 60.384L306.70 28.284" stroke="#1a1a1a" stroke-width="1.0" fill="none"/>
<rect x="276.6" y="9.20" width="28.1" height="13.50" fill="none" stroke="#333" stroke-width="0.8"/>
<text class="lg" x="308.0" y="20.60" font-size="12.4" font-style="italic">t</text>
<text class="lg" x="314.3" y="20.60" font-size="12.4">=</text>
<text class="lg" x="362.9" y="20.60" font-size="12.4" text-anchor="end">0.1 mm</text>
<clipPath id="c20"><rect x="276.6" y="24.2" width="28.100" height="14.100"/></clipPath><rect x="276.6" y="24.2" width="28.100" height="14.100" fill="#dedcf7"/><path clip-path="url(#c20)" d="M274.60 46.792L306.70 78.892M274.60 40.644L306.70 72.744M274.60 34.496L306.70 66.596M274.60 28.348L306.70 60.448M274.60 22.200L306.70 54.300M274.60 16.052L306.70 48.152M274.60 9.904L306.70 42.004M274.60 3.756L306.70 35.856M274.60 -2.392L306.70 29.708M274.60 -8.540L306.70 23.560M274.60 -14.688L306.70 17.412" stroke="#1a1a1a" stroke-width="1.0" fill="none"/>
<rect x="276.6" y="24.20" width="28.1" height="14.10" fill="none" stroke="#333" stroke-width="0.8"/>
<text class="lg" x="308.0" y="35.30" font-size="12.4" font-style="italic">t</text>
<text class="lg" x="314.3" y="35.30" font-size="12.4">=</text>
<text class="lg" x="362.9" y="35.30" font-size="12.4" text-anchor="end">0.5 mm</text>
<clipPath id="c21"><rect x="276.6" y="39.9" width="28.100" height="13.700"/></clipPath><rect x="276.6" y="39.9" width="28.100" height="13.700" fill="#edfcda"/><path clip-path="url(#c21)" d="M274.60 38.350L306.70 6.250M274.60 41.900L306.70 9.800M274.60 45.450L306.70 13.350M274.60 49.000L306.70 16.900M274.60 52.550L306.70 20.450M274.60 56.100L306.70 24.000M274.60 59.650L306.70 27.550M274.60 63.200L306.70 31.100M274.60 66.750L306.70 34.650M274.60 70.300L306.70 38.200M274.60 73.850L306.70 41.750M274.60 77.400L306.70 45.300M274.60 80.950L306.70 48.850M274.60 84.500L306.70 52.400M274.60 88.050L306.70 55.950" stroke="#000" stroke-opacity="0.35" stroke-width="1.5" fill="none"/><path clip-path="url(#c21)" d="M274.60 38.350L306.70 6.250M274.60 41.900L306.70 9.800M274.60 45.450L306.70 13.350M274.60 49.000L306.70 16.900M274.60 52.550L306.70 20.450M274.60 56.100L306.70 24.000M274.60 59.650L306.70 27.550M274.60 63.200L306.70 31.100M274.60 66.750L306.70 34.650M274.60 70.300L306.70 38.200M274.60 73.850L306.70 41.750M274.60 77.400L306.70 45.300M274.60 80.950L306.70 48.850M274.60 84.500L306.70 52.400M274.60 88.050L306.70 55.950" stroke="#000" stroke-width="0.85" fill="none" shape-rendering="crispEdges"/>
<rect x="276.6" y="39.90" width="28.1" height="13.70" fill="none" stroke="#333" stroke-width="0.8"/>
<text class="lg" x="308.0" y="51.10" font-size="12.4" font-style="italic">t</text>
<text class="lg" x="314.3" y="51.10" font-size="12.4">=</text>
<text class="lg" x="362.9" y="51.10" font-size="12.4" text-anchor="end">1 mm</text>
<clipPath id="c22"><rect x="276.6" y="56.8" width="28.100" height="13.700"/></clipPath><rect x="276.6" y="56.8" width="28.100" height="13.700" fill="#fdfbd2"/><path clip-path="url(#c22)" d="M274.60 52.652L306.70 20.552M274.60 58.800L306.70 26.700M274.60 64.948L306.70 32.848M274.60 71.096L306.70 38.996M274.60 77.244L306.70 45.144M274.60 83.392L306.70 51.292M274.60 89.540L306.70 57.440M274.60 95.688L306.70 63.588M274.60 101.836L306.70 69.736M274.60 107.984L306.70 75.884M274.60 79.392L306.70 111.492M274.60 73.244L306.70 105.344M274.60 67.096L306.70 99.196M274.60 60.948L306.70 93.048M274.60 54.800L306.70 86.900M274.60 48.652L306.70 80.752M274.60 42.504L306.70 74.604M274.60 36.356L306.70 68.456M274.60 30.208L306.70 62.308M274.60 24.060L306.70 56.160M274.60 17.912L306.70 50.012" stroke="#1a1a1a" stroke-width="1.0" fill="none"/>
<rect x="276.6" y="56.80" width="28.1" height="13.70" fill="none" stroke="#333" stroke-width="0.8"/>
<text class="lg" x="308.0" y="67.90" font-size="12.4" font-style="italic">t</text>
<text class="lg" x="314.3" y="67.90" font-size="12.4">=</text>
<text class="lg" x="325.6" y="67.90" font-size="12.4" font-style="italic">λ</text>
<text class="lg" x="334.4" y="67.90" font-size="12.4">/</text>
<text class="lg" x="341.3" y="67.90" font-size="12.4">2</text>
</g></svg></div></body></html>
